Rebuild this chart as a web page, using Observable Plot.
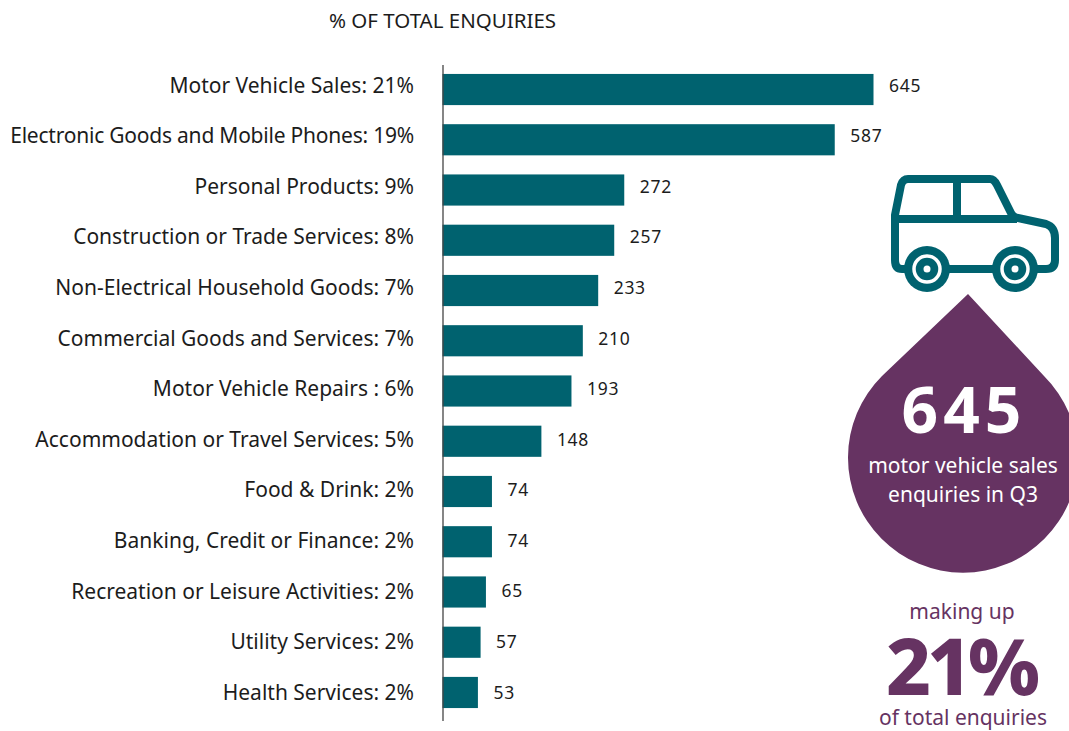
<!DOCTYPE html>
<html><head><meta charset="utf-8">
<style>html,body{margin:0;padding:0;background:#fff;overflow:hidden}svg{display:block}</style>
<script src="https://cdn.jsdelivr.net/npm/d3@7"></script>
<script src="https://cdn.jsdelivr.net/npm/@observablehq/plot@0.6"></script>
</head><body><div id="chart"></div>
<script>
const categories = ["Motor Vehicle Sales","Electronic Goods and Mobile Phones","Personal Products","Construction or Trade Services","Non-Electrical Household Goods","Commercial Goods and Services","Motor Vehicle Repairs ","Accommodation or Travel Services","Food & Drink","Banking, Credit or Finance","Recreation or Leisure Activities","Utility Services","Health Services"];
const percents = [21,19,9,8,7,7,6,5,2,2,2,2,2];
const values = [645,587,272,257,233,210,193,148,74,74,65,57,53];
const axisTitle = "% OF TOTAL ENQUIRIES";
const calloutTexts = ["645","motor vehicle sales","enquiries in Q3","making up","21%","of total enquiries"];

const TEAL="#00626f", PURPLE="#663362", INK="#1c1c1c";
const FONT="'Noto Sans',sans-serif";
const rows = categories.map((c,i)=>({label:`${c}: ${percents[i]}%`,value:values[i],dy:-4+0.33*i}));

function decoration(){
  const g=d3.create("svg:g");
  g.append("path").attr("fill",PURPLE)
    .attr("d","M968 294L1044 376A115 115 0 1 1 882 376Z");
  g.append("path").attr("fill","none").attr("stroke",TEAL).attr("stroke-width",8).attr("stroke-linejoin","round")
    .attr("d","M908 179H990Q994 179 997 185L1011 213Q1013 217 1018 218L1046 224Q1055 227 1055 238V260Q1055 269 1046 269H902Q895 269 895 260V215L901 185Q903 179 908 179ZM895 219H1017M957 179V219");
  for(const cx of [927,1015]){
    g.append("circle").attr("cx",cx).attr("cy",269).attr("r",23).attr("fill",TEAL);
    g.append("circle").attr("cx",cx).attr("cy",269).attr("r",13).attr("fill","none").attr("stroke","#fff").attr("stroke-width",3.5);
    g.append("circle").attr("cx",cx).attr("cy",269).attr("r",3.5).attr("fill","#fff");
  }
  const t=(s,x,y,size,fill,weight,ls)=>g.append("text").text(s).attr("x",x).attr("y",y).attr("text-anchor","middle")
    .attr("class","callout").attr("font-family",FONT).attr("font-size",size).attr("font-weight",weight||400).attr("fill",fill).attr("letter-spacing",ls||0);
  t(calloutTexts[0],964,433,64,"#fff",700,5);
  t(calloutTexts[1],963,473,21,"#fff");
  t(calloutTexts[2],963,502,21,"#fff");
  t(calloutTexts[3],962,619,21,PURPLE);
  t(calloutTexts[4],961,695,78,PURPLE,800,-4);
  t(calloutTexts[5],963,725,21,PURPLE);
  t(axisTitle,442.5,28,20.5,INK);
  return g.node();
}

const plot = Plot.plot({
  width:1069,height:731,marginTop:65,marginBottom:10,marginLeft:0,marginRight:0,
  style:{background:"#fff",fontFamily:FONT},
  x:{domain:[0,645],range:[442.5,873.5],axis:null},
  y:{domain:rows.map(d=>d.label),range:[64.4,717.6],paddingInner:0.38,paddingOuter:0.19,round:false,axis:null},
  marks:[
    Plot.barX(rows,{x:"value",y:"label",fill:TEAL}),
    Plot.ruleX([0],{stroke:"#444",strokeWidth:1.3}),
    ...rows.map(r=>Plot.text([r],{x:0,y:"label",text:"label",dx:-29,dy:r.dy,textAnchor:"end",fontSize:21,fill:INK})),
    ...rows.map(r=>Plot.text([r],{x:"value",y:"label",text:d=>String(d.value),dx:15,dy:r.dy,textAnchor:"start",fontSize:17.5,fill:INK})),
    decoration
  ]
});
document.getElementById("chart").append(plot);
plot.querySelectorAll("text:not(.callout)").forEach(n=>{
  const s=n.textContent;
  if(values.map(String).includes(s)) n.setAttribute("letter-spacing","0.7");
  if(s.startsWith("Electronic")) n.setAttribute("letter-spacing","-0.22");
});
</script></body></html>
